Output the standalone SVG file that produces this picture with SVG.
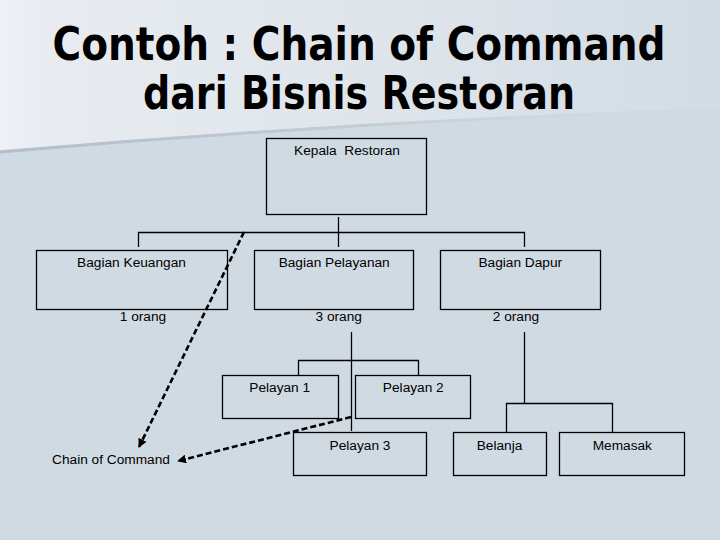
<svg xmlns="http://www.w3.org/2000/svg" width="720" height="540" viewBox="0 0 720 540">
<style>
.box{fill:none;stroke:#000;stroke-width:1.3}
.ln{fill:none;stroke:#000;stroke-width:1.3}
.t{font-family:"Liberation Sans",Arial,sans-serif;font-size:13.7px;fill:#000;text-anchor:middle}
.title{font-family:"DejaVu Sans Condensed","DejaVu Sans",sans-serif;font-stretch:condensed;font-weight:bold;font-size:46px;fill:#000;text-anchor:middle}
.dash{fill:none;stroke:#000;stroke-width:2.6;stroke-dasharray:6 3}
</style>
<defs>
<linearGradient id="topg" x1="0" y1="0" x2="1" y2="0">
<stop offset="0" stop-color="#eef1f5"/>
<stop offset="0.06" stop-color="#e8ecf1"/>
<stop offset="0.5" stop-color="#dfe5eb"/>
<stop offset="1" stop-color="#d3dce4"/>
</linearGradient>
<linearGradient id="edge" x1="0" y1="0" x2="1" y2="0">
<stop offset="0" stop-color="#b4bec8"/>
<stop offset="0.5" stop-color="#c2ccd5"/>
<stop offset="1" stop-color="#d0dae3" stop-opacity="0"/>
</linearGradient>
<marker id="ah" viewBox="0 0 10 10" refX="9" refY="5" markerWidth="9" markerHeight="9" markerUnits="userSpaceOnUse" orient="auto">
<path d="M0,0 L10,5 L0,10 z" fill="#000"/>
</marker>
</defs>
<rect x="0" y="0" width="720" height="540" fill="#d0dae3"/>
<path d="M0,0 H720 V108 Q360,120 0,150 Z" fill="url(#topg)"/>
<path d="M0,152 Q360,121 720,109" fill="none" stroke="url(#edge)" stroke-width="3"/>
<text class="title" x="359" y="59.5" textLength="613" lengthAdjust="spacingAndGlyphs">Contoh : Chain of Command</text>
<text class="title" x="359" y="109" textLength="432" lengthAdjust="spacingAndGlyphs">dari Bisnis Restoran</text>
<g id="connectors">
<path class="ln" d="M338.5,217 V247"/>
<path class="ln" d="M138.5,247 V232.5 H524.5 V247"/>
<path class="ln" d="M351.5,332 V431"/>
<path class="ln" d="M298.5,375 V360.5 H418.5 V375"/>
<path class="ln" d="M524.5,332 V403.5"/>
<path class="ln" d="M506.5,432 V403.5 H612.5 V432"/>
<path class="dash" d="M244,232 L139,447" marker-end="url(#ah)"/>
<path class="dash" d="M351,417 L178,461" marker-end="url(#ah)"/>
</g>
<g id="kepala">
<rect class="box" x="266.5" y="138.5" width="160" height="76"/>
<text class="t" x="347" y="155" xml:space="preserve">Kepala  Restoran</text>
</g>
<g id="keuangan">
<rect class="box" x="36.5" y="250.5" width="191" height="59"/>
<text class="t" x="131.5" y="266.5">Bagian Keuangan</text>
<text class="t" x="143" y="321">1 orang</text>
</g>
<g id="pelayanan">
<rect class="box" x="254.5" y="250.5" width="159" height="59"/>
<text class="t" x="334.2" y="266.5">Bagian Pelayanan</text>
<text class="t" x="338.7" y="321">3 orang</text>
</g>
<g id="dapur">
<rect class="box" x="440.5" y="250.5" width="160" height="59"/>
<text class="t" x="520.3" y="266.5">Bagian Dapur</text>
<text class="t" x="516" y="321">2 orang</text>
</g>
<g id="pelayan1">
<rect class="box" x="222.5" y="375.5" width="116" height="43"/>
<text class="t" x="279.7" y="391.5">Pelayan 1</text>
</g>
<g id="pelayan2">
<rect class="box" x="355.5" y="375.5" width="115" height="43"/>
<text class="t" x="413.3" y="391.5">Pelayan 2</text>
</g>
<g id="pelayan3">
<rect class="box" x="293.5" y="432.5" width="133" height="43"/>
<text class="t" x="360" y="450">Pelayan 3</text>
</g>
<g id="belanja">
<rect class="box" x="453.5" y="432.5" width="93" height="43"/>
<text class="t" x="499.5" y="450">Belanja</text>
</g>
<g id="memasak">
<rect class="box" x="559.5" y="432.5" width="125" height="43"/>
<text class="t" x="622.3" y="450">Memasak</text>
</g>
<g id="chain">
<text class="t" x="111" y="464">Chain of Command</text>
</g>
</svg>
